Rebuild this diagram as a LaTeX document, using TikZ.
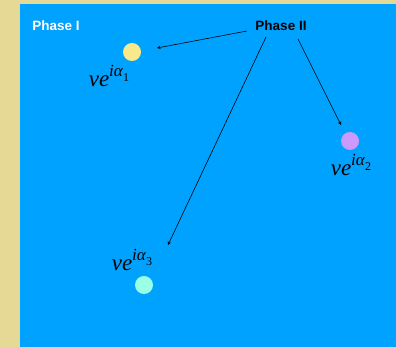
\documentclass[tikz,border=0pt]{standalone}
\usepackage{fontspec}
\setsansfont{Liberation Sans}
\setmainfont{Liberation Serif}
\definecolor{beige}{HTML}{E6D996}
\definecolor{skyb}{HTML}{00A2FF}
\definecolor{dotyellow}{HTML}{F8EA8A}
\definecolor{dotpink}{HTML}{CC99FF}
\definecolor{dotcyan}{HTML}{99FFE6}
\newcommand{\phlab}[1]{\textit{ve}\raisebox{0.42em}{\fontsize{17}{18}\selectfont\textit{iα}\raisebox{-0.3em}{\fontsize{12}{13}\selectfont #1}}}
\begin{document}
\begin{tikzpicture}[x=1pt,y=-1pt,
  phase/.style={font=\sffamily\bfseries\fontsize{13.5}{15}\selectfont, inner sep=1pt},
  dot/.style={circle, minimum size=18pt, inner sep=0pt},
  lab/.style={font=\fontsize{23}{25}\selectfont, inner sep=0pt},
  conn/.style={draw=black, line width=0.6pt, -stealth}]
\useasboundingbox (0,0) rectangle (396,347);
\fill[beige] (0,0) rectangle (396,347);
\fill[skyb] (20,4) rectangle (396,347);
\node[phase, text=white] (p1) at (56,26) {Phase I};
\node[phase, text=black] (p2) at (281,26) {Phase II};
\node[dot, fill=dotyellow] (d1) at (132,52) {};
\node[dot, fill=dotpink] (d2) at (350,141) {};
\node[dot, fill=dotcyan] (d3) at (144,285) {};
\node[lab] (l1) at (109,76) {\phlab{1}};
\node[lab] (l2) at (351,165) {\phlab{2}};
\node[lab] (l3) at (132,260) {\phlab{3}};
\coordinate (a1) at (157,48);
\coordinate (a2) at (341,125);
\coordinate (a3) at (168,245);
\coordinate (s1) at (247,31);
\coordinate (s2) at (298,39);
\coordinate (s3) at (266,37);
\draw[conn] (s1) -- (a1);
\draw[conn] (s2) -- (a2);
\draw[conn] (s3) -- (a3);
\end{tikzpicture}
\end{document}
